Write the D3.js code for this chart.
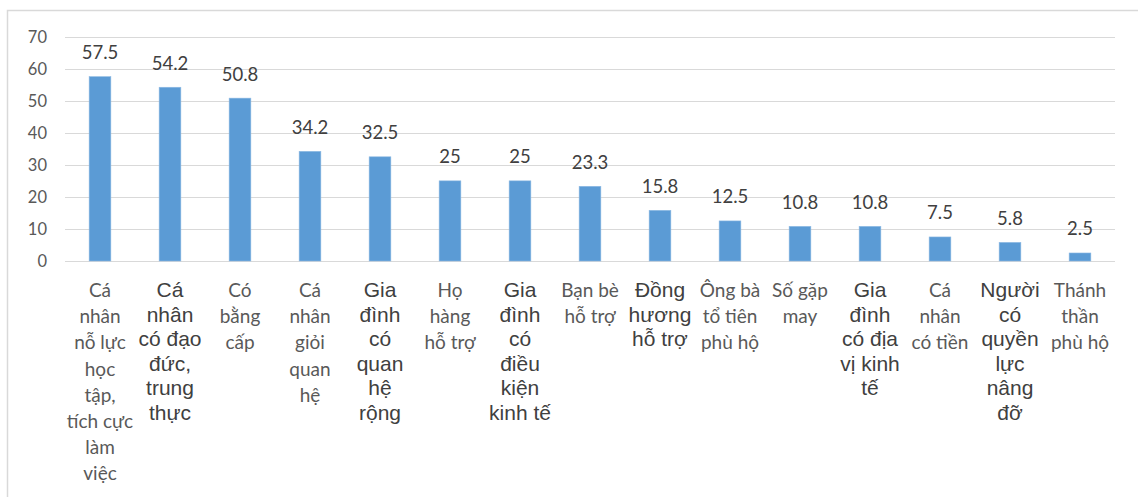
<!DOCTYPE html>
<html lang="vi">
<head>
<meta charset="utf-8">
<script src="https://cdn.jsdelivr.net/npm/d3@7"></script>
<style>
  html, body { margin: 0; padding: 0; background: #ffffff; }
  svg { display: block; }
</style>
</head>
<body>
<svg id="chart" width="1138" height="497"></svg>
<script>
// Category labels (line breaks as wrapped under each column)
const categories = [
  "Cá\nnhân\nnỗ lực\nhọc\ntập,\ntích cực\nlàm\nviệc",
  "Cá\nnhân\ncó đạo\nđức,\ntrung\nthực",
  "Có\nbằng\ncấp",
  "Cá\nnhân\ngiỏi\nquan\nhệ",
  "Gia\nđình\ncó\nquan\nhệ\nrộng",
  "Họ\nhàng\nhỗ trợ",
  "Gia\nđình\ncó\nđiều\nkiện\nkinh tế",
  "Bạn bè\nhỗ trợ",
  "Đồng\nhương\nhỗ trợ",
  "Ông bà\ntổ tiên\nphù hộ",
  "Số gặp\nmay",
  "Gia\nđình\ncó địa\nvị kinh\ntế",
  "Cá\nnhân\ncó tiền",
  "Người\ncó\nquyền\nlực\nnâng\nđỡ",
  "Thánh\nthần\nphù hộ"
];
const values = [57.5, 54.2, 50.8, 34.2, 32.5, 25, 25, 23.3, 15.8, 12.5, 10.8, 10.8, 7.5, 5.8, 2.5];
const yTicks = [0, 10, 20, 30, 40, 50, 60, 70];

// Columns whose labels are set in the sans-serif face
const sansLabelIdx = new Set([1, 4, 6, 8, 11, 13]);

const svg = d3.select("#chart");

// Chart frame
svg.append("rect")
  .attr("x", 7.5).attr("y", 10.5)
  .attr("width", 1300).attr("height", 600)
  .attr("fill", "none")
  .attr("stroke", "#d9d9d9")
  .attr("stroke-width", 1.5);

const x = d3.scaleBand()
  .domain(d3.range(categories.length))
  .range([65, 1115])
  .paddingInner(0.69)
  .paddingOuter(0.345);

const y = d3.scaleLinear()
  .domain([0, 70])
  .range([261, 36.6]);

// Horizontal gridlines
svg.append("g")
  .selectAll("line")
  .data(yTicks)
  .join("line")
  .attr("x1", 65).attr("x2", 1115)
  .attr("y1", d => Math.round(y(d)) + 0.5)
  .attr("y2", d => Math.round(y(d)) + 0.5)
  .attr("stroke", "#d9d9d9")
  .attr("stroke-width", 1);

// Y axis labels
const yAxis = d3.axisLeft(y).tickValues(yTicks).tickSize(0).tickPadding(0);
const gy = svg.append("g").attr("transform", "translate(47,0)").call(yAxis);
gy.select(".domain").remove();
gy.selectAll("text")
  .attr("fill", "#595959")
  .attr("font-family", "Lato, 'Open Sans', sans-serif")
  .attr("font-size", "16.5px")
  .attr("dy", "0.36em");

// Bars
svg.append("g")
  .selectAll("rect")
  .data(values)
  .join("rect")
  .attr("x", (d, i) => x(i))
  .attr("y", d => y(d))
  .attr("width", x.bandwidth())
  .attr("height", d => y(0) - y(d))
  .attr("fill", "#5b9bd5")
  .attr("stroke", "#8db9e3")
  .attr("stroke-width", 0.6);

// Value labels
svg.append("g")
  .selectAll("text")
  .data(values)
  .join("text")
  .attr("x", (d, i) => x(i) + x.bandwidth() / 2)
  .attr("y", d => y(d) - 17.5)
  .attr("text-anchor", "middle")
  .attr("fill", "#404040")
  .attr("font-family", "Lato, 'Open Sans', sans-serif")
  .attr("font-size", "18.5px")
  .text(d => String(d));

// Category labels
const catG = svg.append("g");
categories.forEach((label, i) => {
  const sans = sansLabelIdx.has(i);
  const lineH = sans ? 24.5 : 26.2;
  const t = catG.append("text")
    .attr("x", x(i) + x.bandwidth() / 2)
    .attr("y", 297)
    .attr("text-anchor", "middle")
    .attr("fill", sans ? "#404040" : "#595959")
    .attr("font-family", sans ? "'Liberation Sans', Arial, sans-serif" : "Lato, 'Open Sans', sans-serif")
    .attr("font-size", sans ? "21px" : "19px");
  label.split("\n").forEach((line, k) => {
    t.append("tspan")
      .attr("x", x(i) + x.bandwidth() / 2)
      .attr("y", 297 + k * lineH)
      .text(line);
  });
});
</script>
</body>
</html>
